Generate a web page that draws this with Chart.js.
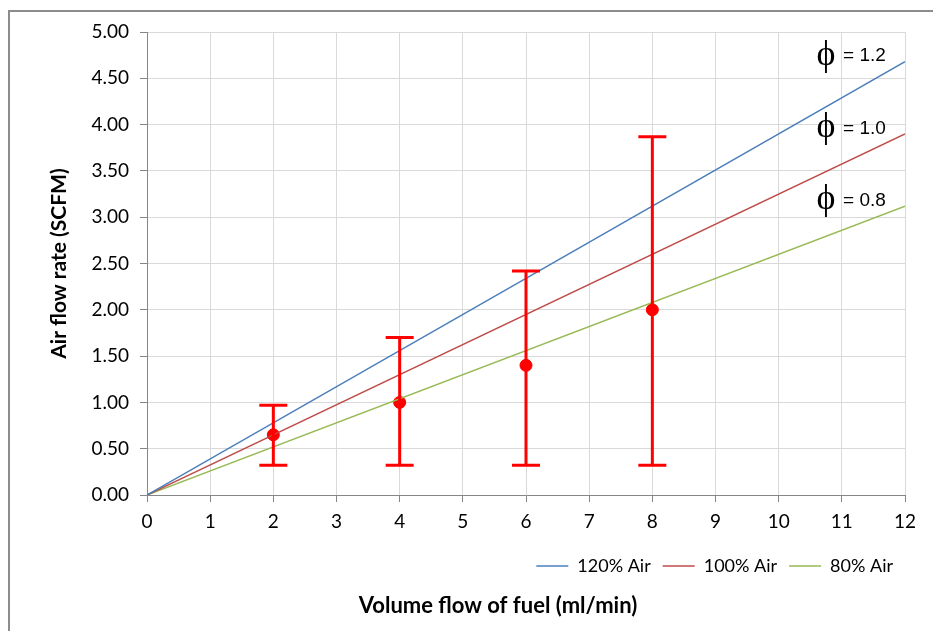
<!DOCTYPE html>
<html>
<head>
<meta charset="utf-8">
<script src="https://cdn.jsdelivr.net/npm/chart.js@4.4.0/dist/chart.umd.min.js"></script>
<style>
  html, body { margin: 0; padding: 0; background: #fff; }
  #wrap { width: 933px; height: 631px; }
</style>
</head>
<body>
<div id="wrap"><canvas id="airChart" width="933" height="631"></canvas></div>
<script>
// theoretical lines (fuel flow ml/min -> air SCFM)
const fuelFlow = [0, 12];
const air120 = [0, 4.68];
const air100 = [0, 3.90];
const air80 = [0, 3.12];
const seriesNames = ['120% Air', '100% Air', '80% Air'];

// measured points with error bars
const measFuel = [2, 4, 6, 8];
const measAir = [0.65, 1.00, 1.40, 2.00];
const measLow = [0.32, 0.32, 0.32, 0.32];
const measHigh = [0.97, 1.70, 2.42, 3.87];

const phiLabels = ['= 1.2', '= 1.0', '= 0.8'];

const toXY = (xs, ys) => xs.map((x, i) => ({ x: x, y: ys[i] }));

const extras = {
    id: 'extras',
    beforeDraw(chart) {
        const ctx = chart.ctx;
        ctx.save();
        ctx.fillStyle = '#fff';
        ctx.fillRect(0, 0, chart.width, chart.height);
        // outer frame (only top/left visible in the picture)
        ctx.strokeStyle = '#8c8c8c';
        ctx.lineWidth = 2;
        ctx.beginPath();
        ctx.moveTo(9, chart.height + 2);
        ctx.lineTo(9, 11);
        ctx.lineTo(chart.width + 2, 11);
        ctx.stroke();
        ctx.restore();
    },
    afterDatasetsDraw(chart) {
        const ctx = chart.ctx;
        const xs = chart.scales.x, ys = chart.scales.y;
        ctx.save();
        ctx.strokeStyle = '#ff0000';
        ctx.lineWidth = 3;
        measFuel.forEach((f, i) => {
            const px = xs.getPixelForValue(f);
            const lo = ys.getPixelForValue(measLow[i]);
            const hi = ys.getPixelForValue(measHigh[i]);
            ctx.beginPath();
            ctx.moveTo(px, lo); ctx.lineTo(px, hi);
            ctx.moveTo(px - 14, lo); ctx.lineTo(px + 14, lo);
            ctx.moveTo(px - 14, hi); ctx.lineTo(px + 14, hi);
            ctx.stroke();
        });
        ctx.restore();
    },
    afterDraw(chart) {
        const ctx = chart.ctx;
        const xs = chart.scales.x, ys = chart.scales.y;
        const labelY = [4.75, 3.97, 3.19];
        ctx.save();
        ctx.fillStyle = '#000';
        ctx.textBaseline = 'middle';
        phiLabels.forEach((t, i) => {
            const px = xs.getPixelForValue(10.75);
            const py = ys.getPixelForValue(labelY[i]);
            ctx.font = '36px "Liberation Serif", "DejaVu Serif"';
            ctx.textAlign = 'center';
            ctx.fillText('\u03D5', px, py);
            ctx.font = '19px "Liberation Sans"';
            ctx.textAlign = 'left';
            ctx.fillText(t, px + 17, py + 1);
        });
        // x axis title sits below the legend
        ctx.font = 'bold 22px Lato';
        ctx.textAlign = 'center';
        ctx.fillText('Volume flow of fuel (ml/min)', 498, 606);
        ctx.restore();
    }
};

const lineDs = (label, ys, color) => ({
    type: 'line',
    label: label,
    data: toXY(fuelFlow, ys),
    borderColor: color,
    backgroundColor: color,
    borderWidth: 1.5,
    pointRadius: 0,
    fill: false
});

new Chart(document.getElementById('airChart'), {
    type: 'scatter',
    data: {
        datasets: [
            lineDs(seriesNames[0], air120, '#4a7ebb'),
            lineDs(seriesNames[1], air100, '#be4b48'),
            lineDs(seriesNames[2], air80, '#98b954'),
            {
                label: 'measured',
                data: toXY(measFuel, measAir),
                pointRadius: 6,
                pointBackgroundColor: '#ff0000',
                pointBorderColor: '#ff0000',
                showLine: false
            }
        ]
    },
    options: {
        responsive: false,
        animation: false,
        layout: { padding: { left: 0, right: 28, top: 32, bottom: 46 } },
        plugins: {
            tooltip: { enabled: false },
            legend: {
                position: 'bottom',
                align: 'end',
                labels: {
                    filter: item => item.datasetIndex < 3,
                    usePointStyle: true,
                    pointStyle: 'line',
                    pointStyleWidth: 32,
                    boxHeight: 2,
                    color: '#000',
                    font: { family: 'Lato', size: 18 },
                    padding: 12
                }
            }
        },
        scales: {
            x: {
                type: 'linear',
                min: 0,
                max: 12,
                ticks: { stepSize: 1, color: '#000', padding: 8, font: { family: 'Lato', size: 19 } },
                grid: { color: '#d9d9d9', tickColor: '#868686', tickLength: 7 },
                border: { color: '#868686' },
                afterFit: s => { s.height = 50; }
            },
            y: {
                min: 0,
                max: 5,
                ticks: {
                    stepSize: 0.5,
                    color: '#000',
                    padding: 11,
                    font: { family: 'Lato', size: 19 },
                    callback: v => v.toFixed(2)
                },
                grid: { color: '#d9d9d9', tickColor: '#868686', tickLength: 7 },
                border: { color: '#868686' },
                title: {
                    display: true,
                    text: 'Air flow rate (SCFM)',
                    color: '#000',
                    font: { family: 'Lato', size: 21, weight: 'bold' },
                    padding: { top: 47, bottom: 0 }
                },
                afterFit: s => { s.width = 147; }
            }
        }
    },
    plugins: [extras]
});
</script>
</body>
</html>
